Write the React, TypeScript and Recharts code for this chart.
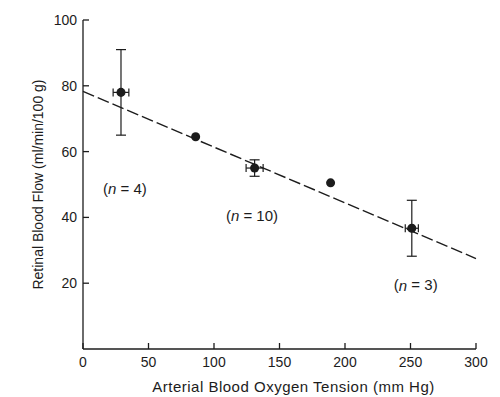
import {
  ComposedChart,
  Scatter,
  Line,
  XAxis,
  YAxis,
  ErrorBar,
} from 'recharts'

// arterial PO2 (mm Hg) vs retinal blood flow (ml/min/100 g)
const oxygenTension = [29, 86, 131, 189, 251]
const bloodFlow = [78, 64.5, 55, 50.5, 36.7]
const flowError = [13, null, 2.5, null, 8.5]
const tensionError = [6, null, 6.5, null, 5]

// regression line end points
const fitX = [0, 300]
const fitY = [78.3, 27.5]

// group size notes
const noteX = [32, 129, 254]
const noteY = [48.8, 40.7, 19.5]
const noteN = ['4', '10', '3']

const xTicks = [0, 50, 100, 150, 200, 250, 300]
const yTicks = [20, 40, 60, 80, 100]

const points = oxygenTension.map((x, i) => ({
  x,
  y: bloodFlow[i],
  ey: flowError[i],
  ex: tensionError[i],
}))
const withError = points.filter((p) => p.ey != null)
const noError = points.filter((p) => p.ey == null)
const fitLine = fitX.map((x, i) => ({ x, fit: fitY[i] }))
const notes = noteX.map((x, i) => ({ x, y: noteY[i], n: noteN[i] }))

const ink = '#1c1c1c'
const font = '"Liberation Sans", Arial, sans-serif'

function NoteLabel(props: any) {
  const { cx, cy, payload } = props
  return (
    <text
      x={cx}
      y={cy}
      textAnchor="middle"
      dominantBaseline="central"
      fontSize={15}
      fontFamily={font}
      fill={ink}
    >
      (<tspan fontStyle="italic">n</tspan> = {payload.n})
    </text>
  )
}

export default function App() {
  return (
    <div style={{ width: 500, height: 397, background: '#fff' }}>
      <style>{'body{margin:0}'}</style>
      <ComposedChart
        width={500}
        height={397}
        margin={{ top: 20, right: 24, bottom: 0, left: 0 }}
      >
        <XAxis
          dataKey="x"
          type="number"
          domain={[0, 300]}
          ticks={xTicks}
          height={48}
          stroke={ink}
          strokeWidth={1.3}
          tickSize={-6}
          tickMargin={14}
          tick={{ fill: ink, fontSize: 14, fontFamily: font }}
          label={{
            value: 'Arterial Blood Oxygen Tension (mm Hg)',
            position: 'insideBottom',
            offset: 5,
            dx: 14,
            fill: ink,
            fontSize: 15,
            letterSpacing: 0.5,
            fontFamily: font,
          }}
        />
        <YAxis
          type="number"
          domain={[0, 100]}
          ticks={yTicks}
          width={83}
          stroke={ink}
          strokeWidth={1.3}
          tickSize={-6}
          tickMargin={12}
          tick={{ fill: ink, fontSize: 14, fontFamily: font }}
          label={{
            value: 'Retinal Blood Flow (ml/min/100 g)',
            angle: -90,
            position: 'center',
            dx: -3,
            fill: ink,
            fontSize: 14,
            fontFamily: font,
          }}
        />
        <Line
          data={fitLine}
          dataKey="fit"
          dot={false}
          stroke={ink}
          strokeWidth={1.4}
          strokeDasharray="12 4"
          isAnimationActive={false}
        />
        <Scatter data={withError} dataKey="y" fill={ink} r={5} isAnimationActive={false}>
          <ErrorBar dataKey="ey" direction="y" width={5} stroke={ink} strokeWidth={1.2} />
          <ErrorBar dataKey="ex" direction="x" width={4} stroke={ink} strokeWidth={1.2} />
        </Scatter>
        <Scatter data={noError} dataKey="y" fill={ink} isAnimationActive={false} />
        <Scatter
          data={notes}
          dataKey="y"
          shape={NoteLabel}
          isAnimationActive={false}
        />
      </ComposedChart>
    </div>
  )
}
